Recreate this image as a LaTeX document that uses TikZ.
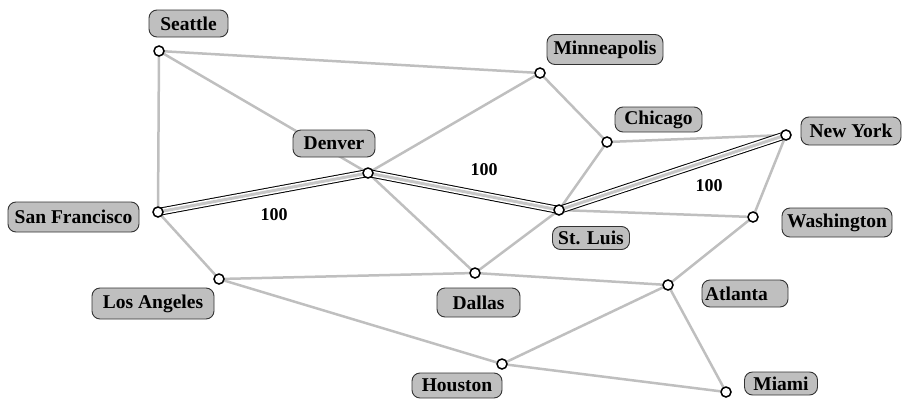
\documentclass[tikz,border=0pt]{standalone}
\usepackage{fontspec}
\setmainfont{Liberation Serif}
\pgfdeclarelayer{bg}
\pgfsetlayers{bg,main}
\begin{document}
\begin{tikzpicture}[x=1pt,y=-1pt,
  city/.style={circle, draw=black, fill=white, line width=1.5pt, minimum size=10pt, inner sep=0pt},
  lab/.style={draw=black!80, fill=gray!50, rounded corners=8pt, line width=0.9pt, inner sep=0pt,
    font=\bfseries\fontsize{19.5}{19.5}\selectfont, minimum height=27pt},
  road/.style={draw=gray!50, line width=2.5pt},
  routeA/.style={draw=black, line width=8pt},
  routeB/.style={draw=white, line width=6pt},
  routeC/.style={draw=gray!45, line width=3pt},
  dist/.style={font=\bfseries\fontsize{18}{18}\selectfont, inner sep=0pt}
]
\useasboundingbox (0,0) rectangle (902,399);
% cities
\node[city] (sea) at (159,51) {};
\node[city] (min) at (540,73) {};
\node[city] (chi) at (607,142) {};
\node[city] (ny)  at (786,135) {};
\node[city] (den) at (368,173) {};
\node[city] (sf)  at (158,212) {};
\node[city] (stl) at (559,210) {};
\node[city] (wash) at (753,217) {};
\node[city] (la)  at (219,279) {};
\node[city] (dal) at (475,273) {};
\node[city] (atl) at (668,285) {};
\node[city] (hou) at (502,364) {};
\node[city] (mia) at (726,392) {};
% labels
\node[lab, minimum width=79pt] (lsea) at (188.5,23.5) {Seattle};
\node[lab, minimum width=116pt, minimum height=30pt] (lmin) at (605,49.5) {Minneapolis};
\node[lab, minimum width=87pt, minimum height=25pt] (lchi) at (658.5,119.5) {Chicago};
\node[lab, minimum width=100pt, minimum height=28pt] (lny) at (851,131) {New York};
\node[lab, minimum width=82pt] (lden) at (334,143.5) {Denver};
\node[lab, minimum width=131pt, minimum height=30pt] (lsf) at (73.5,217) {San Francisco};
\node[lab, minimum width=77pt, minimum height=23pt] (lstl) at (591,238) {St. Luis};
\node[lab, minimum width=110pt, minimum height=29pt] (lwash) at (837,222.5) {Washington};
\node[lab, minimum width=122pt, minimum height=31pt] (lla) at (153,303.5) {Los Angeles};
\node[lab, minimum width=83pt, minimum height=29pt] (ldal) at (478.5,302.5) {Dallas};
\node[lab, minimum width=86pt, minimum height=27pt, text width=80pt, align=left] (latl) at (745,293.5) {Atlanta};
\node[lab, minimum width=90pt, minimum height=25pt] (lhou) at (457,385.5) {Houston};
\node[lab, minimum width=73pt, minimum height=23pt] (lmia) at (781,383.5) {Miami};
% distances
\node[dist] (d1) at (274,215) {100};
\node[dist] (d2) at (484,170) {100};
\node[dist] (d3) at (709,186) {100};
\begin{pgfonlayer}{bg}
\foreach \a/\b in {sea/min, sea/sf, sea/den, den/dal, den/min, min/chi, chi/ny, chi/stl,
  stl/dal, ny/wash, stl/wash, wash/atl, la/sf, la/dal, dal/atl, la/hou, hou/atl, hou/mia, atl/mia}
  \draw[road] (\a.center) -- (\b.center);
\draw[routeA] (sf.center) -- (den.center) -- (stl.center) -- (ny.center);
\draw[routeB] (sf.center) -- (den.center) -- (stl.center) -- (ny.center);
\draw[routeC] (sf.center) -- (den.center) -- (stl.center) -- (ny.center);
\end{pgfonlayer}
\end{tikzpicture}
\end{document}
